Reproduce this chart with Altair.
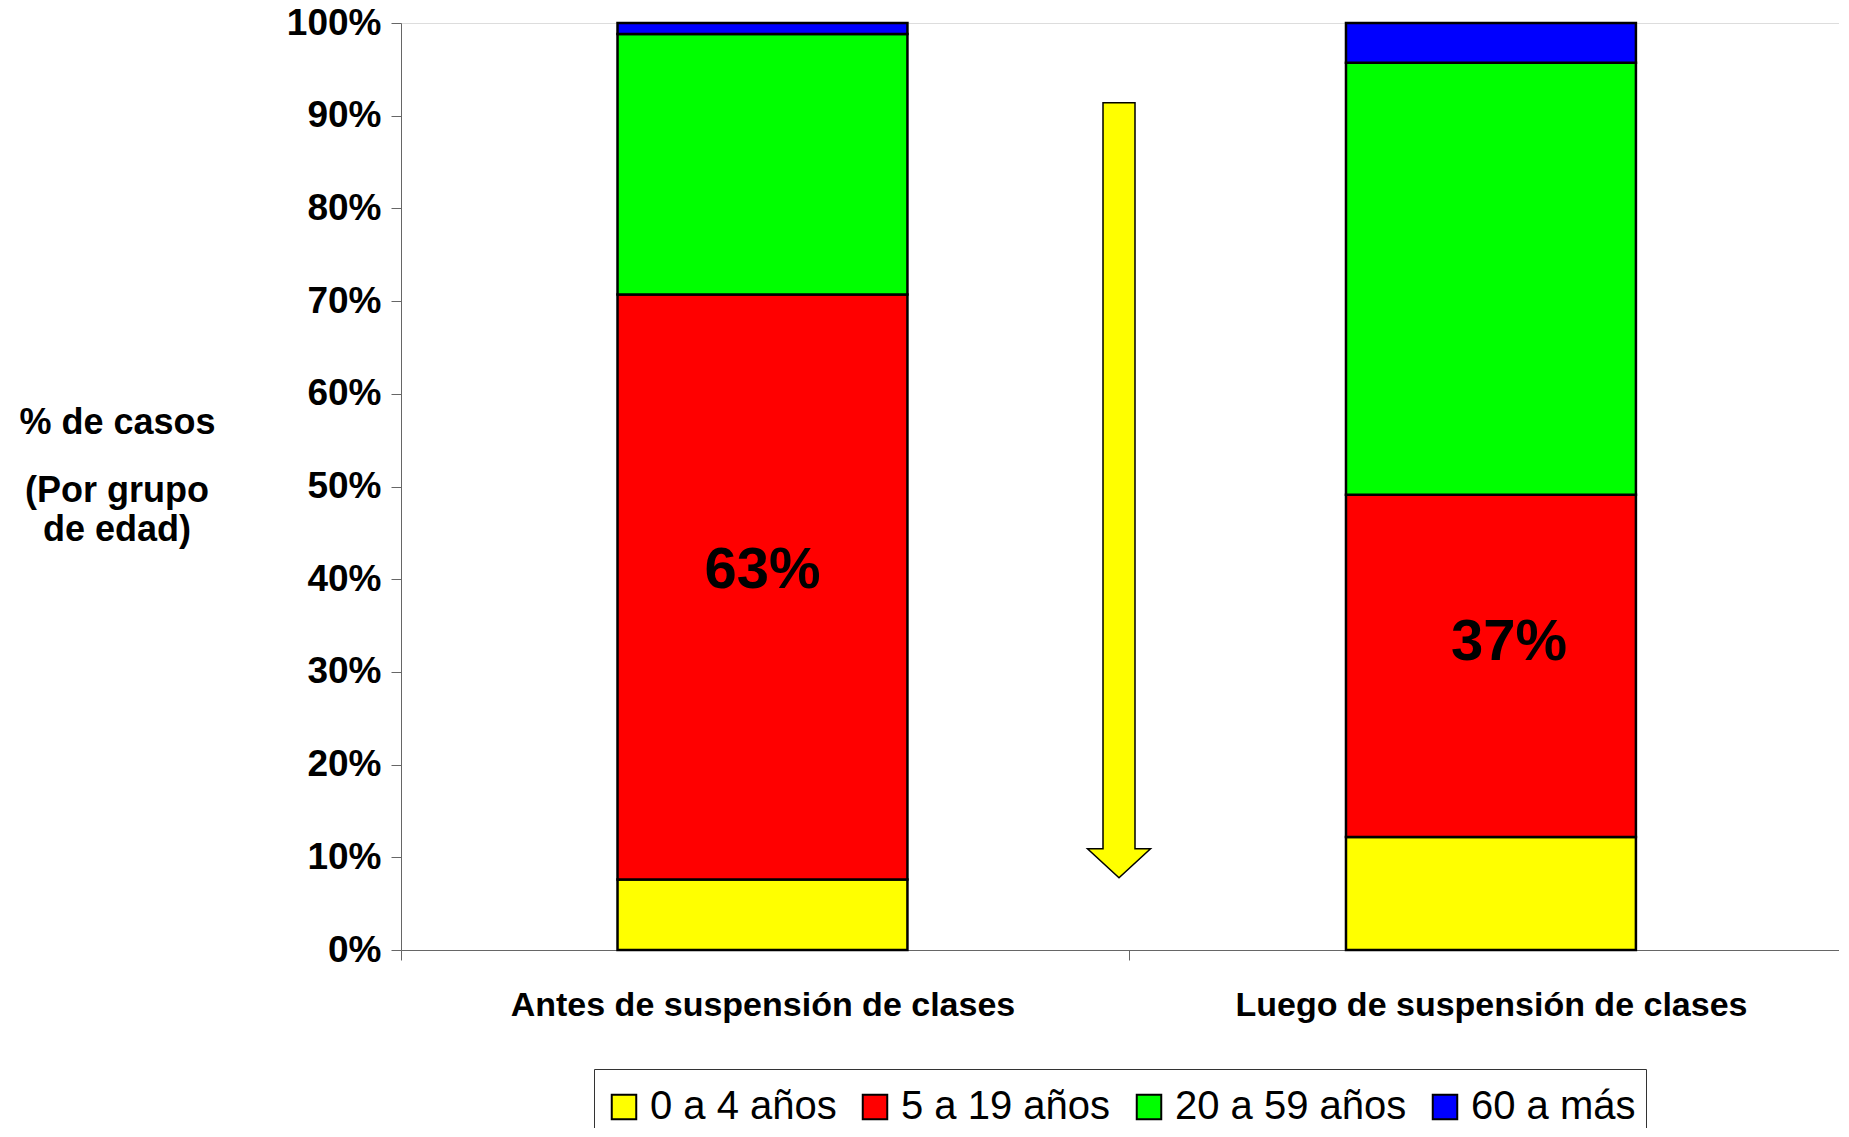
import altair as alt
import pandas as pd

# ---- data ----
periods = ["Antes de suspensión de clases", "Luego de suspensión de clases"]
groups = ["0 a 4 años", "5 a 19 años", "20 a 59 años", "60 a más"]
colors = ["#FFFF00", "#FF0000", "#00FF00", "#0000FF"]
antes = [7.6, 63.1, 28.1, 1.2]
luego = [12.2, 36.9, 46.6, 4.3]
label_text = ["63%", "37%"]
label_y = [40.9, 33.1]
y_ticks = [0, 10, 20, 30, 40, 50, 60, 70, 80, 90, 100]
y_title_1 = "% de casos"
y_title_2 = ["(Por grupo", "de edad)"]
arrow_from = 91.4
arrow_to = 7.8

rows = []
for p, vals in zip(periods, [antes, luego]):
    for i, (g, v) in enumerate(zip(groups, vals)):
        rows.append({"periodo": p, "grupo": g, "idx": i, "valor": v})
df = pd.DataFrame(rows)
lbl = pd.DataFrame({"periodo": periods, "texto": label_text, "y": label_y})

FONT = "Liberation Sans"
PLOT_H = 927
PLOT_W = 1438

xscale = alt.Scale(domain=periods, paddingInner=0.602, paddingOuter=0.288, align=0.516)
yscale = alt.Scale(domain=[0, 100], nice=False)

bars = alt.Chart(df).mark_bar(stroke="black", strokeWidth=2.5).encode(
    x=alt.X("periodo:N", scale=xscale, sort=periods,
            axis=alt.Axis(title=None, labelAngle=0, labelFont=FONT, labelFontSize=34,
                          labelFontWeight="bold", labelColor="black", labelPadding=28,
                          tickSize=10, tickColor="#666666", domainColor="#666666",
                          tickOffset=-361.7, labelOffset=361.7, labelLimit=0)),
    y=alt.Y("valor:Q", stack="zero", scale=yscale,
            axis=alt.Axis(values=y_ticks, labelExpr="datum.value + '%'", labelFont=FONT,
                          labelFontSize=37, labelFontWeight="bold", labelColor="black",
                          labelPadding=10, tickSize=10, tickColor="#666666",
                          domainColor="#666666", grid=False,
                          title=y_title_1,
                          titleFont=FONT, titleFontSize=36, titleFontWeight="bold",
                          titleColor="black", titleAngle=0, titleAlign="center",
                          titleBaseline="alphabetic",
                          titleX=-284, titleY=410)),
    color=alt.Color("grupo:N", scale=alt.Scale(domain=groups, range=colors),
                    legend=alt.Legend(title="\u00a0", titleFontSize=2, titlePadding=6,
                                      orient="none", legendX=193, legendY=1046,
                                      direction="horizontal", columns=4,
                                      symbolType="square", symbolSize=600,
                                      symbolStrokeColor="black", symbolStrokeWidth=2,
                                      labelFont=FONT, labelFontSize=40, labelColor="black",
                                      labelLimit=0, labelOffset=6, columnPadding=18,
                                      padding=10, strokeColor="#333333", fillColor="white")),
    order=alt.Order("idx:Q", sort="ascending"),
)

# continuation of the y-axis title (separate lines, as in the reference)
ytitle2 = alt.Chart(pd.DataFrame({"t": [0]})).mark_text(
    text=y_title_2, font=FONT, fontSize=36, fontWeight="bold", color="black",
    align="center", baseline="alphabetic", lineHeight=39
).encode(x=alt.value(-284), y=alt.value(479))

txt1 = alt.Chart(lbl).transform_filter(alt.datum.texto == label_text[0]).mark_text(
    font=FONT, fontSize=58, fontWeight="bold", color="black", baseline="middle"
).encode(x=alt.X("periodo:N", scale=xscale, sort=periods), y=alt.Y("y:Q", scale=yscale),
         text="texto:N")
txt2 = alt.Chart(lbl).transform_filter(alt.datum.texto == label_text[1]).mark_text(
    font=FONT, fontSize=58, fontWeight="bold", color="black", baseline="middle", dx=18
).encode(x=alt.X("periodo:N", scale=xscale, sort=periods), y=alt.Y("y:Q", scale=yscale),
         text="texto:N")

# yellow down arrow (annotation), spanning arrow_from -> arrow_to on the y scale
arrow_px = (arrow_from - arrow_to) / 100 * PLOT_H
half = arrow_px / 2
sw = 16 / half
hw = 31.5 / half
hy = 1 - 29 / half
arrow_path = (f"M {-sw},-1 L {sw},-1 L {sw},{hy} L {hw},{hy} L 0,1 "
              f"L {-hw},{hy} L {-sw},{hy} Z")
arr = pd.DataFrame({"mid": [(arrow_from + arrow_to) / 2]})
arrow = alt.Chart(arr).mark_point(
    shape=arrow_path, filled=True, fill="#FFFF00", stroke="black", strokeWidth=1.5,
    size=arrow_px ** 2, opacity=1
).encode(x=alt.value(718), y=alt.Y("mid:Q", scale=yscale))

chart = alt.layer(bars, arrow, txt1, txt2, ytitle2).properties(
    width=PLOT_W, height=PLOT_H,
    autosize=alt.AutoSizeParams(type="none"),
    padding={"left": 393, "top": 15, "right": 0, "bottom": 178},
).configure_view(strokeWidth=0).configure(background="white")

chart.save("out.html", embed_options={"renderer": "svg", "actions": False})
